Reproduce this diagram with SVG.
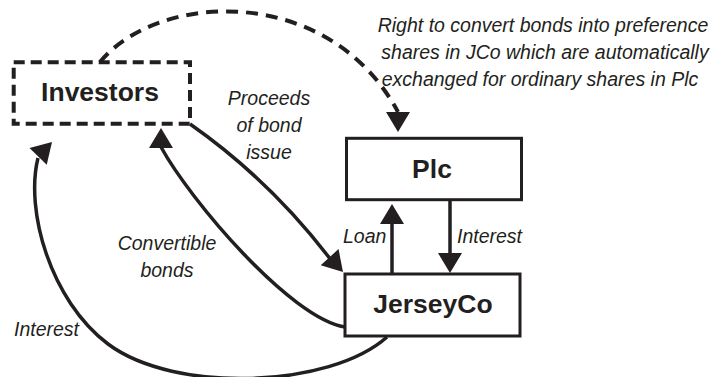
<svg xmlns="http://www.w3.org/2000/svg" xmlns:xlink="http://www.w3.org/1999/xlink" width="720" height="377" viewBox="0 0 720 377">
<style>
.box{fill:#fff;stroke:#231f20;stroke-width:3}
.dbox{fill:#fff;stroke:#231f20;stroke-width:4;stroke-dasharray:11 6}
.name{font-family:"Liberation Sans",Arial,sans-serif;font-weight:bold;font-size:26.5px;fill:#231f20;text-anchor:middle}
.lbl{font-family:"Liberation Sans",Arial,sans-serif;font-style:italic;font-size:19.5px;fill:#231f20}
.c{text-anchor:middle}
.ln{fill:none;stroke:#231f20;stroke-width:3.5}
.dash{fill:none;stroke:#231f20;stroke-width:4;stroke-dasharray:12 8}
.ah{fill:#231f20}
</style>
<defs>
<path id="ah" d="M0,0 L-12,-20 L12,-20 Z"/>
</defs>
<rect width="720" height="377" fill="#fff"/>
<g id="connectors">
<path class="dash" d="M100,62 C160,-10 330,-15 398,112"/>
<use href="#ah" class="ah" transform="translate(398,132)"/>
<path class="ln" d="M190,124 Q270,180 331,260"/>
<use href="#ah" class="ah" transform="translate(343,272) rotate(-42)"/>
<path class="ln" d="M345,327 C290,318 190,200 161,147"/>
<use href="#ah" class="ah" transform="translate(161,128) rotate(180)"/>
<path class="ln" d="M387,337 C330,388 175,394 108,344 C50,300 25,210 38,158"/>
<use href="#ah" class="ah" transform="translate(52,142) rotate(-136)"/>
<path class="ln" d="M392,274 L392,222"/>
<use href="#ah" class="ah" transform="translate(392,204) rotate(180)"/>
<path class="ln" d="M450,200 L450,255"/>
<use href="#ah" class="ah" transform="translate(450,273)"/>
</g>
<g id="investors">
<rect class="dbox" x="13.7" y="62.3" width="176.3" height="61.4"/>
<text class="name" x="100" y="101">Investors</text>
</g>
<g id="plc">
<rect class="box" x="346.5" y="138.3" width="175" height="61.4"/>
<text class="name" x="432" y="178">Plc</text>
</g>
<g id="jerseyco">
<rect class="box" x="345" y="274" width="175" height="62"/>
<text class="name" x="433" y="313">JerseyCo</text>
</g>
<g id="labels">
<text class="lbl c" x="543" y="32">Right to convert bonds into preference</text>
<text class="lbl c" x="545" y="59">shares in JCo which are automatically</text>
<text class="lbl c" x="540" y="86">exchanged for ordinary shares in Plc</text>
<text class="lbl c" x="269" y="105">Proceeds</text>
<text class="lbl c" x="269" y="132">of bond</text>
<text class="lbl c" x="269" y="159">issue</text>
<text class="lbl c" x="167" y="250">Convertible</text>
<text class="lbl c" x="167" y="277">bonds</text>
<text class="lbl" x="14" y="336">Interest</text>
<text class="lbl" x="343" y="243">Loan</text>
<text class="lbl" x="457" y="243">Interest</text>
</g>
</svg>
